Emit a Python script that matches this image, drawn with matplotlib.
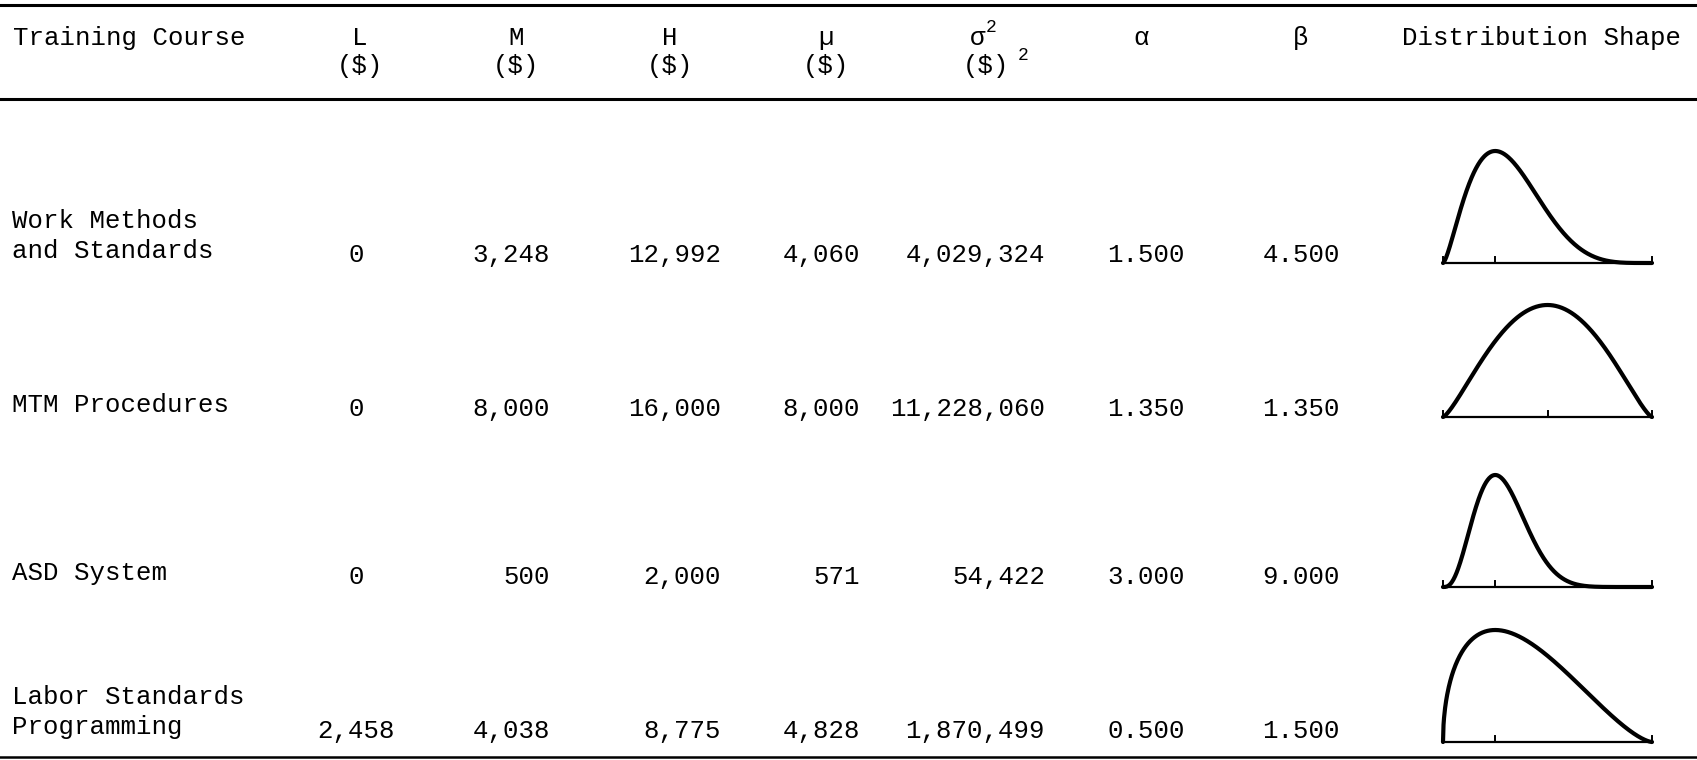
import numpy as np
import matplotlib.pyplot as plt

# table data
courses = ['Work Methods\nand Standards', 'MTM Procedures', 'ASD System', 'Labor Standards\nProgramming']
L = [0, 0, 0, 2458]
M = [3248, 8000, 500, 4038]
H = [12992, 16000, 2000, 8775]
mu = [4060, 8000, 571, 4828]
var = [4029324, 11228060, 54422, 1870499]
alpha = [1.5, 1.35, 3.0, 0.5]
beta = [4.5, 1.35, 9.0, 1.5]

W, HT = 1697, 760
fig = plt.figure(figsize=(W / 100, HT / 100), dpi=100)
ax = fig.add_axes([0, 0, 1, 1])
ax.set_xlim(0, W)
ax.set_ylim(HT, 0)
ax.axis('off')

font = dict(family='Liberation Mono', fontsize=18.5, color='black')

# rules
ax.axhline(5, color='black', lw=2.2)
ax.axhline(99, color='black', lw=2.2)
ax.axhline(757, color='black', lw=1.8)

# header
ax.text(13, 38, 'Training Course', ha='left', va='center', **font)
hdr_x = [360, 516, 670, 826, 978, 1141, 1301]
hdr_top = ['L', 'M', 'H', 'µ', 'σ', 'α', 'β']
hdr_bot = ['($)', '($)', '($)', '($)', '($)', '', '']
for x, t, b in zip(hdr_x, hdr_top, hdr_bot):
    ax.text(x, 38, t, ha='center', va='center', **font)
    if b:
        ax.text(x + (8 if t == 'σ' else 0), 66, b, ha='center', va='center', **font)
# superscripts on sigma^2 and ($)^2
ax.text(986, 27, '2', ha='left', va='center', family='Liberation Mono', fontsize=13)
ax.text(1018, 56, '2', ha='left', va='center', family='Liberation Mono', fontsize=13)
ax.text(1542, 38, 'Distribution Shape', ha='center', va='center', **font)

# rows
row_y = [255, 409, 577, 731]
for i, y in enumerate(row_y):
    lines = courses[i].split('\n')
    for j, line in enumerate(lines):
        ax.text(12, y - 4 - 30 * (len(lines) - 1 - j), line, ha='left', va='center', **font)
    ax.text(356, y, f'{L[i]:,}', ha='center', va='center', **font)
    ax.text(550, y, f'{M[i]:,}', ha='right', va='center', **font)
    ax.text(721, y, f'{H[i]:,}', ha='right', va='center', **font)
    ax.text(860, y, f'{mu[i]:,}', ha='right', va='center', **font)
    ax.text(1045, y, f'{var[i]:,}', ha='right', va='center', **font)
    ax.text(1185, y, f'{alpha[i]:.3f}', ha='right', va='center', **font)
    ax.text(1340, y, f'{beta[i]:.3f}', ha='right', va='center', **font)

# distribution shapes
base_y = [263, 417, 587, 742]
for i, by in enumerate(base_y):
    sax = fig.add_axes([1443 / W, (HT - by) / HT, 209 / W, 112 / HT])
    sax.set_xlim(0, 1)
    sax.set_ylim(0, 1)
    sax.axis('off')
    x = np.linspace(0, 1, 400)
    y = x ** alpha[i] * (1 - x) ** beta[i]
    y = y / y.max()
    sax.plot(x, y, color='black', lw=3.0, clip_on=False, solid_capstyle='round')
    sax.plot([0, 1], [0, 0], color='black', lw=1.6, clip_on=False)
    mode = (M[i] - L[i]) / (H[i] - L[i])
    for tx in [0, mode, 1]:
        sax.plot([tx, tx], [0, 0.05], color='black', lw=1.4, clip_on=False)

fig.savefig('out.png', dpi=100)
